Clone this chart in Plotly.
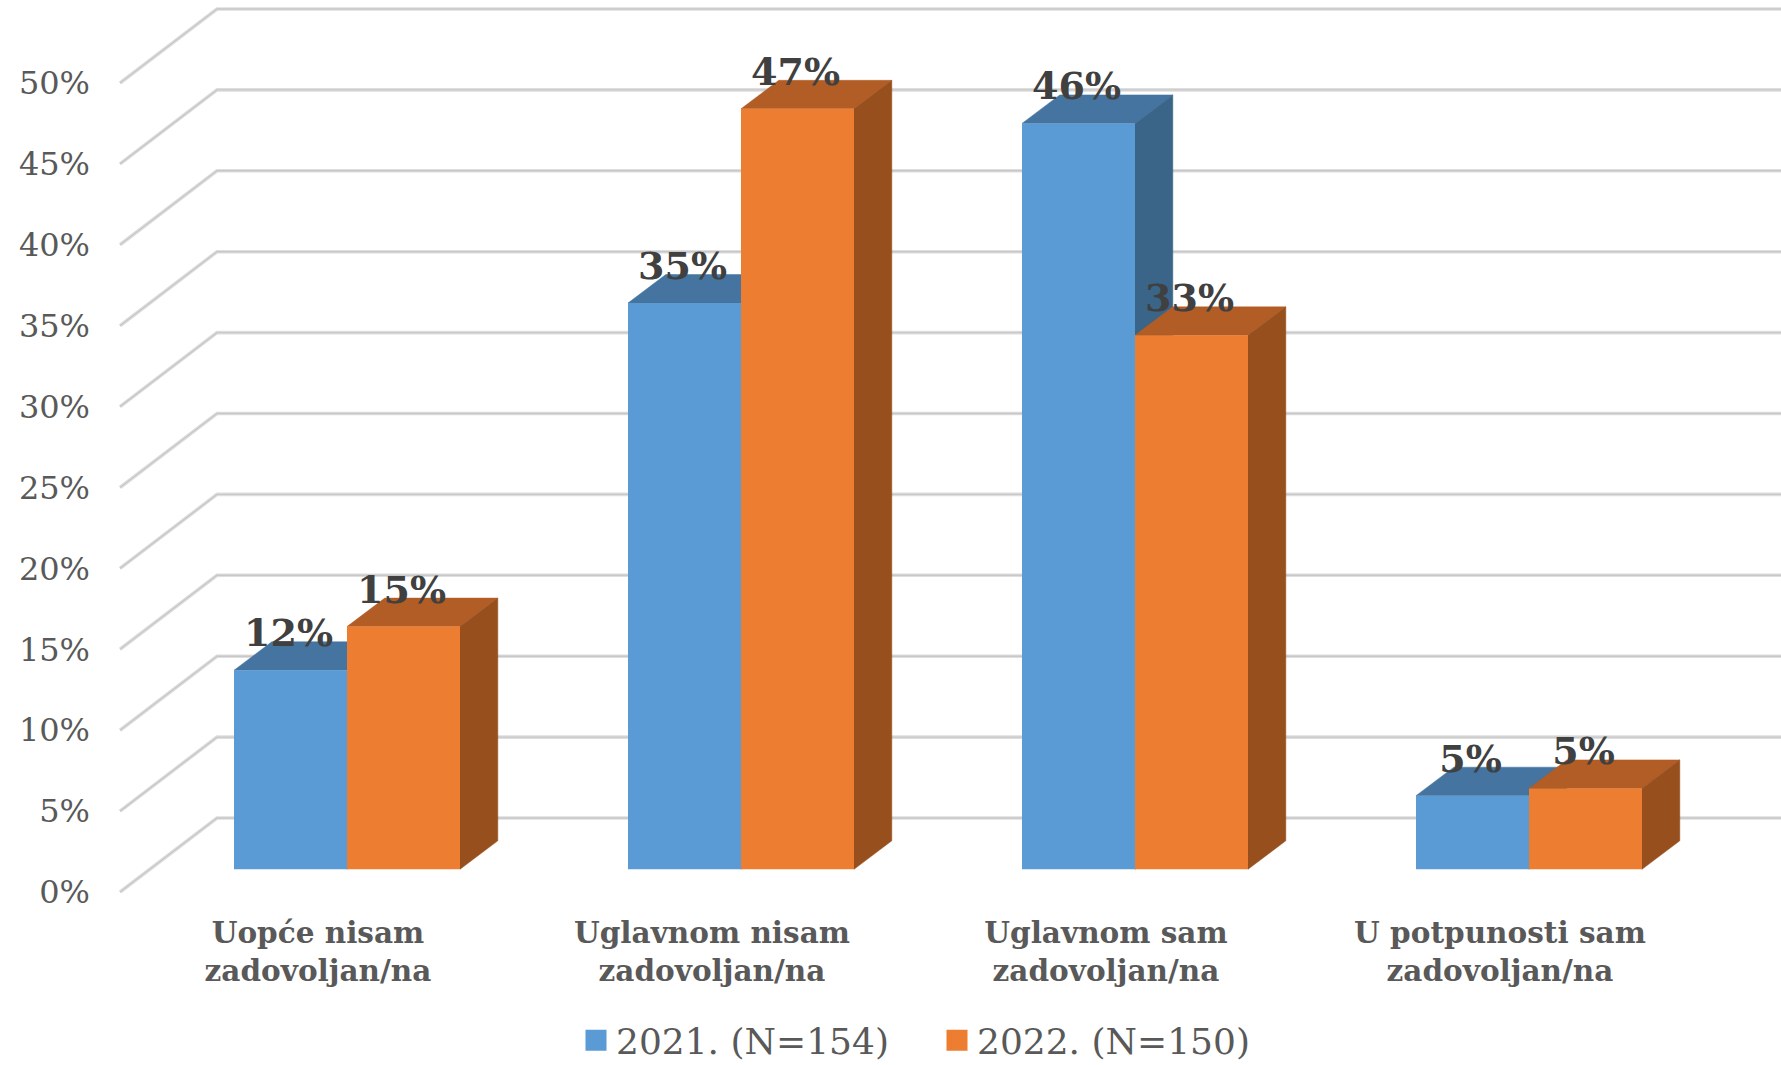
import plotly.graph_objects as go

categories = ["Uopće nisam<br>zadovoljan/na", "Uglavnom nisam<br>zadovoljan/na",
              "Uglavnom sam<br>zadovoljan/na", "U potpunosti sam<br>zadovoljan/na"]
series_names = ["2021. (N=154)", "2022. (N=150)"]
values_2021 = [12.3, 35.0, 46.1, 4.55]
values_2022 = [15.0, 47.0, 33.0, 5.0]
y_ticks = [0, 5, 10, 15, 20, 25, 30, 35, 40, 45, 50]

# --- figure geometry (pixels) ---
W, H = 1781, 1065
PX_PER_PCT = 16.18
PX_PER_CAT = 394.0
CAT0_PX = 347.0          # centre of first bar pair
FLOOR_FRONT_PX = 892.0   # value axis zero, front edge of floor
BAR_BASE_PX = 869.3      # zero of the bars' front face
BAR_W = 113.0 / PX_PER_CAT
DEPTH_X = 37.8 / PX_PER_CAT
DEPTH_Y = 28.5 / PX_PER_PCT
WALL_X = 97.0 / PX_PER_CAT
WALL_Y = 74.0 / PX_PER_PCT
AXIS_FRONT_X = (120.0 - CAT0_PX) / PX_PER_CAT
BAR_SHIFT = (FLOOR_FRONT_PX - BAR_BASE_PX) / PX_PER_PCT
XR = [-CAT0_PX / PX_PER_CAT, (W - CAT0_PX) / PX_PER_CAT]
YR = [-(H - FLOOR_FRONT_PX) / PX_PER_PCT, FLOOR_FRONT_PX / PX_PER_PCT]
YR2 = [YR[0] - BAR_SHIFT, YR[1] - BAR_SHIFT]

COL = {
    0: dict(front="#5B9BD5", top="#44749F", side="#3A6588"),
    1: dict(front="#ED7D31", top="#B25D25", side="#974F1E"),
}

fig = go.Figure()

# gridlines: side wall + back wall (soft edge with a darker core)
gx, gy = [], []
for t in y_ticks:
    gx += [AXIS_FRONT_X, AXIS_FRONT_X + WALL_X, XR[1], None]
    gy += [t, t + WALL_Y, t + WALL_Y, None]
for color, width in [("#DEDEDE", 3.6), ("#C8C8C8", 1.4)]:
    fig.add_trace(go.Scatter(x=gx, y=gy, mode="lines", showlegend=False, hoverinfo="skip",
                             line=dict(color=color, width=width, simplify=False)))

# 3-D faces computed from the values
for s, vals in enumerate([values_2021, values_2022]):
    left = [i - BAR_W + s * BAR_W for i in range(len(vals))]
    tx, ty, sx, sy = [], [], [], []
    for x0, v in zip(left, vals):
        x1 = x0 + BAR_W
        b = BAR_SHIFT
        tx += [x0, x1, x1 + DEPTH_X, x0 + DEPTH_X, x0, None]
        ty += [v + b, v + b, v + b + DEPTH_Y, v + b + DEPTH_Y, v + b, None]
        sx += [x1, x1 + DEPTH_X, x1 + DEPTH_X, x1, x1, None]
        sy += [b, b + DEPTH_Y, v + b + DEPTH_Y, v + b, b, None]
    fig.add_trace(go.Scatter(x=tx, y=ty, mode="lines", fill="toself", fillcolor=COL[s]["top"],
                             line=dict(color=COL[s]["top"], width=0.5), showlegend=False, hoverinfo="skip"))
    fig.add_trace(go.Scatter(x=sx, y=sy, mode="lines", fill="toself", fillcolor=COL[s]["side"],
                             line=dict(color=COL[s]["side"], width=0.5), showlegend=False, hoverinfo="skip"))

# front faces on an overlaid subplot so they sit above the depth faces
xs = list(range(len(categories)))
for s, vals in enumerate([values_2021, values_2022]):
    fig.add_trace(go.Bar(x=xs, y=vals, name=series_names[s], xaxis="x2", yaxis="y2",
                         marker=dict(color=COL[s]["front"], line=dict(width=0)),
                         showlegend=False))

# data labels
lx, ly, lt = [], [], []
for s, vals in enumerate([values_2021, values_2022]):
    for i, v in enumerate(vals):
        lx.append(i - BAR_W / 2 + s * BAR_W - 2 / PX_PER_CAT)
        ly.append(v + 0.9)
        lt.append(f"{round(v + 0.001)}%")
fig.add_trace(go.Scatter(x=lx, y=ly, text=lt, mode="text", textposition="top center", xaxis="x2", yaxis="y2",
                         textfont=dict(family="DejaVu Serif", size=38, color="#404040", weight="bold"),
                         showlegend=False, hoverinfo="skip"))

# legend entries
for s in range(2):
    fig.add_trace(go.Scatter(x=[None], y=[None], mode="markers", name=series_names[s],
                             marker=dict(symbol="square", size=16, color=COL[s]["front"],
                                         line=dict(color=COL[s]["front"], width=5))))

fig.update_layout(
    width=W, height=H, autosize=False, margin=dict(l=0, r=0, t=0, b=0, autoexpand=False),
    paper_bgcolor="white", plot_bgcolor="white",
    barmode="group", bargap=1 - 2 * BAR_W, bargroupgap=0,
    showlegend=True,
    legend=dict(orientation="h", x=(596 - 20) / W, xanchor="left", y=-0.005, yanchor="bottom",
                font=dict(family="DejaVu Serif", size=36, color="#595959"),
                entrywidth=316, entrywidthmode="pixels", bgcolor="rgba(0,0,0,0)"),
    xaxis=dict(range=XR, anchor="free", position=1 - 912 / H, showgrid=False, zeroline=False, showline=False,
               ticks="", tickmode="array", tickvals=[i - 29 / PX_PER_CAT for i in xs], ticktext=categories,
               tickangle=0, tickfont=dict(family="DejaVu Serif", size=29.5, color="#595959", weight="bold")),
    yaxis=dict(range=YR, anchor="free", position=90 / W, showgrid=False, zeroline=False, showline=False,
               ticks="", tickmode="array", tickvals=y_ticks, ticktext=[f"{t}%" for t in y_ticks],
               tickfont=dict(family="DejaVu Serif", size=32, color="#595959")),
    xaxis2=dict(range=XR, overlaying="x", visible=False),
    yaxis2=dict(range=YR2, overlaying="y", visible=False),
)

fig.write_html("out.html", config=dict(displayModeBar=False),
               post_script="document.body.style.margin='0';document.documentElement.style.overflow='hidden';")
